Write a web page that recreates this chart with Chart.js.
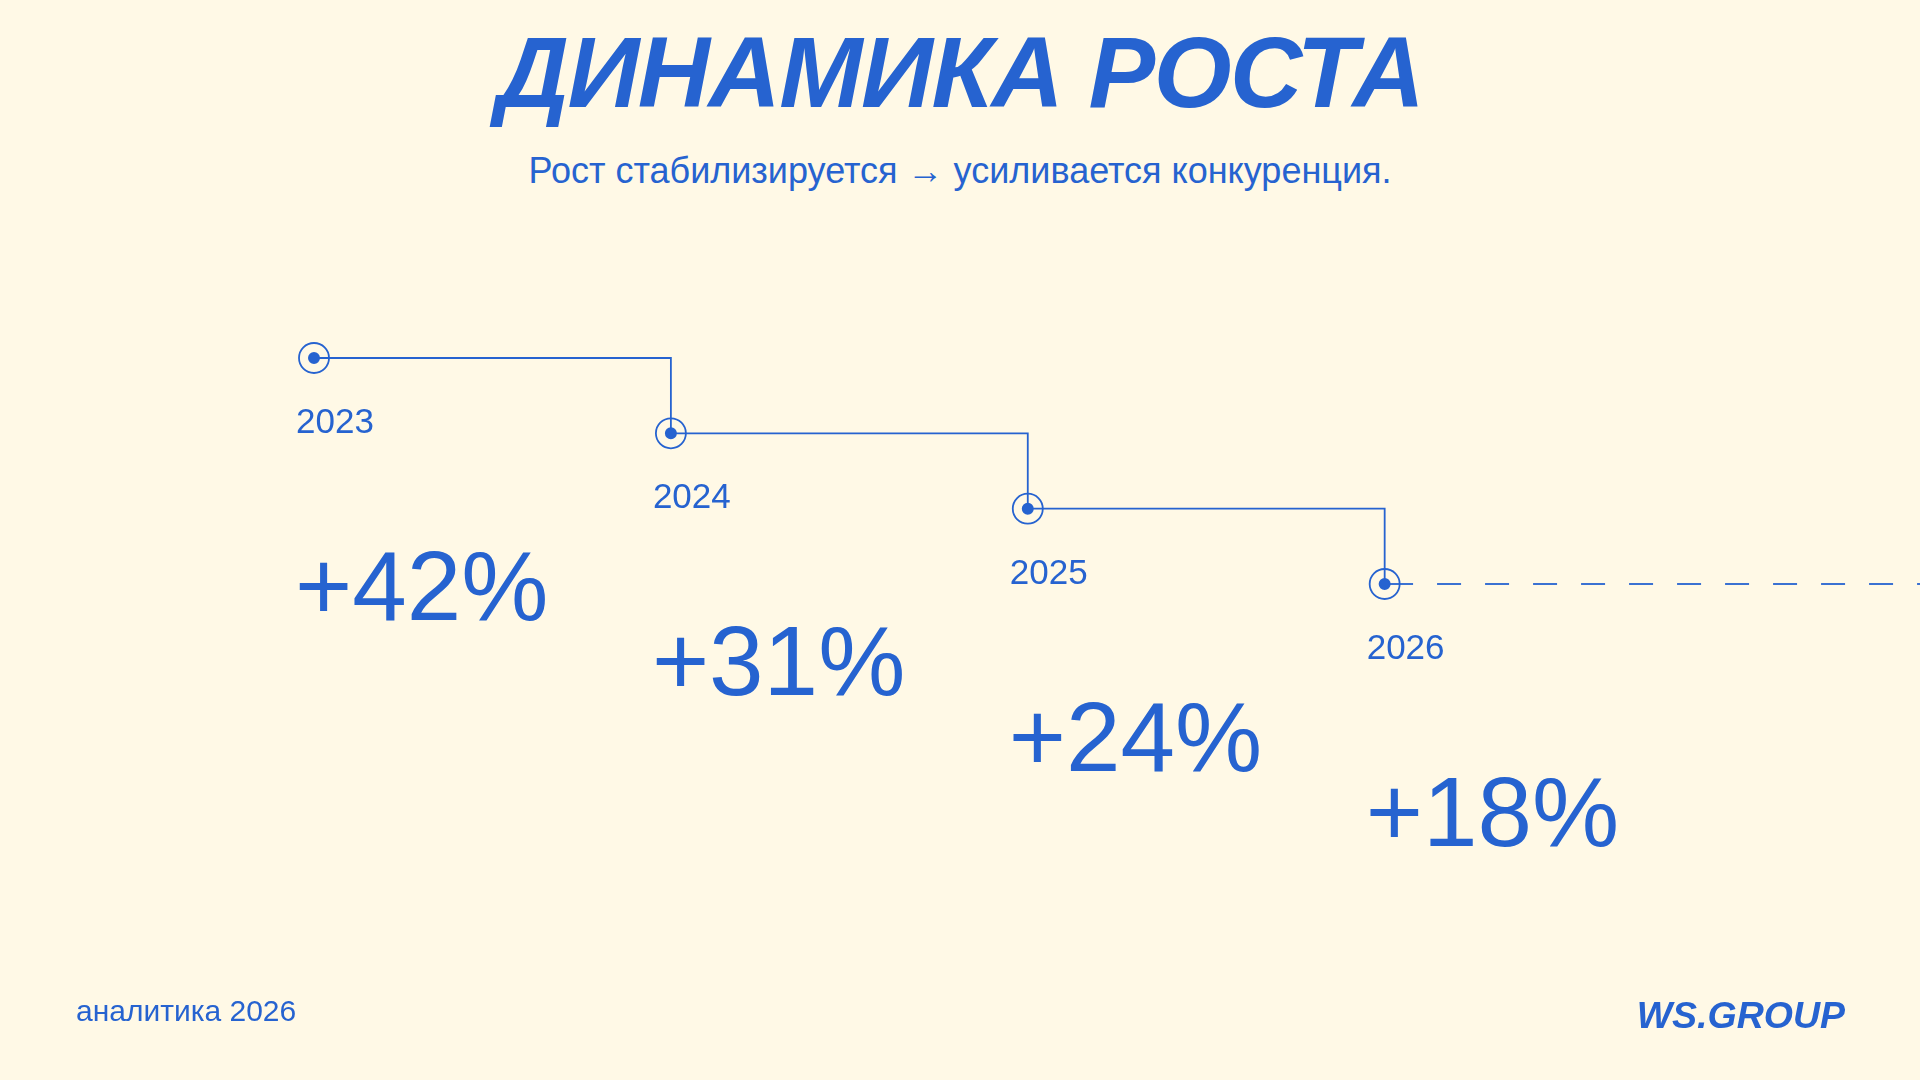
<!DOCTYPE html>
<html lang="ru">
<head>
<meta charset="utf-8">
<title>Динамика роста</title>
<script src="https://cdn.jsdelivr.net/npm/chart.js@4.4.1/dist/chart.umd.min.js"></script>
<style>
  html, body {
    margin: 0;
    padding: 0;
    width: 1920px;
    height: 1080px;
    overflow: hidden;
    background: #fff9e6;
    font-family: "Liberation Sans", Arial, Helvetica, sans-serif;
    color: #2663d0;
  }
  #growth-chart {
    position: absolute;
    left: 0;
    top: 0;
  }
  .title {
    position: absolute;
    left: 0;
    width: 1920px;
    top: 14px;
    text-align: center;
    font-size: 100px;
    font-weight: bold;
    font-style: italic;
    letter-spacing: -1.5px;
    line-height: 116px;
    margin: 0;
  }
  .subtitle {
    position: absolute;
    left: 0;
    width: 1920px;
    top: 151px;
    text-align: center;
    font-size: 36px;
    line-height: 40px;
    margin: 0;
  }
  .footer-left {
    position: absolute;
    left: 76px;
    top: 995px;
    font-size: 30px;
    line-height: 32px;
  }
  .footer-right {
    position: absolute;
    right: 75px;
    top: 994px;
    font-size: 37.5px;
    line-height: 42px;
    font-weight: bold;
    font-style: italic;
  }
</style>
</head>
<body>
<h1 class="title">ДИНАМИКА РОСТА</h1>
<p class="subtitle">Рост стабилизируется → усиливается конкуренция.</p>
<canvas id="growth-chart" width="1920" height="1080"></canvas>
<div class="footer-left">аналитика 2026</div>
<div class="footer-right">WS.GROUP</div>

<script>
// данные
const years = [2023, 2024, 2025, 2026];
const growthLabels = ['+42%', '+31%', '+24%', '+18%'];
const forecastEnd = 2027.5;

const BLUE = '#2663d0';

const stepPoints = years.map((year, i) => ({ x: year, y: growthLabels[i] }));
const lastIndex = years.length - 1;
const trendPoints = [
    { x: years[lastIndex], y: growthLabels[lastIndex] },
    { x: forecastEnd, y: growthLabels[lastIndex] }
];

// подписи: год под маркером и процент ниже
const stepLabels = {
    id: 'stepLabels',
    afterDatasetsDraw(chart) {
        const ctx = chart.ctx;
        const meta = chart.getDatasetMeta(0);
        ctx.save();
        ctx.fillStyle = BLUE;
        ctx.textAlign = 'left';
        ctx.textBaseline = 'alphabetic';
        meta.data.forEach((pt, i) => {
            ctx.font = '35px "Liberation Sans", Arial, sans-serif';
            ctx.fillText(String(years[i]), pt.x - 18, pt.y + 75);
            ctx.font = '98px "Liberation Sans", Arial, sans-serif';
            ctx.fillText(growthLabels[i], pt.x - 19, pt.y + 262);
        });
        ctx.restore();
    }
};

const ctx = document.getElementById('growth-chart').getContext('2d');
const chart = new Chart(ctx, {
    type: 'line',
    data: {
        datasets: [
            {
                // ступенчатая линия + точки
                data: stepPoints,
                borderColor: BLUE,
                borderWidth: 1.8,
                stepped: 'before',
                fill: false,
                pointRadius: 5,
                pointBorderWidth: 2,
                pointBackgroundColor: BLUE,
                pointBorderColor: BLUE,
                clip: false
            },
            {
                // кольца вокруг точек
                data: stepPoints,
                showLine: false,
                pointRadius: 15,
                pointBorderWidth: 1.8,
                pointBackgroundColor: 'rgba(0,0,0,0)',
                pointBorderColor: BLUE,
                clip: false
            },
            {
                // пунктир прогноза
                data: trendPoints,
                borderColor: BLUE,
                borderWidth: 1.8,
                borderDash: [24, 24],
                borderDashOffset: -4.4,
                pointRadius: 0,
                fill: false,
                clip: false
            }
        ]
    },
    options: {
        responsive: false,
        devicePixelRatio: 1,
        animation: false,
        layout: {
            autoPadding: false,
            padding: { left: 314, right: 0, top: 358, bottom: 496 }
        },
        plugins: {
            legend: { display: false },
            tooltip: { enabled: false }
        },
        scales: {
            x: {
                type: 'linear',
                min: years[0],
                max: forecastEnd,
                display: false
            },
            y: {
                type: 'category',
                labels: growthLabels,
                offset: false,
                display: false
            }
        }
    },
    plugins: [stepLabels]
});
</script>
</body>
</html>
